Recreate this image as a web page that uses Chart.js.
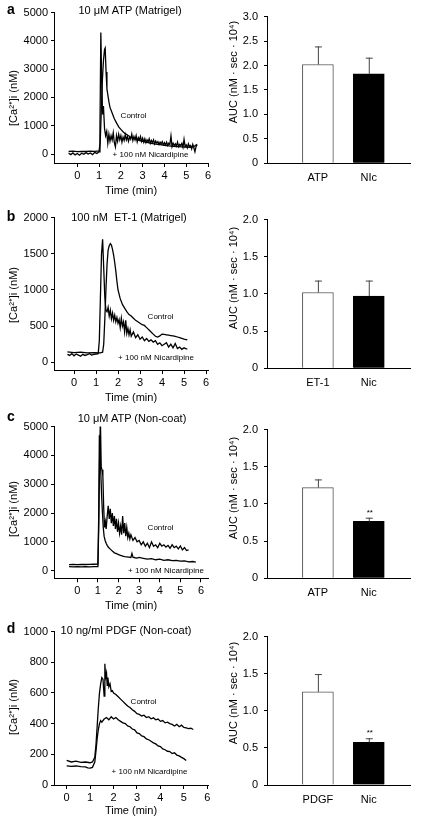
<!DOCTYPE html>
<html>
<head>
<meta charset="utf-8">
<script src="https://cdn.jsdelivr.net/npm/chart.js@4"></script>
<style>
body { margin:0; background:#fff; width:421px; height:818px; position:relative; overflow:hidden; font-family:"Liberation Sans", Arial, sans-serif; }
canvas { position:absolute; }
.lbl { position:absolute; transform:translate(-50%,-50%); line-height:1; white-space:pre; color:#000; }
.rot { transform:translate(-50%,-50%) rotate(-90deg); }
</style>
</head>
<body>
<canvas id="traceA"></canvas>
<canvas id="barA"></canvas>
<canvas id="traceB"></canvas>
<canvas id="barB"></canvas>
<canvas id="traceC"></canvas>
<canvas id="barC"></canvas>
<canvas id="traceD"></canvas>
<canvas id="barD"></canvas>
<script>
/* ticks */
const X_TICKS = [0, 1, 2, 3, 4, 5, 6];
const A_Y_TICKS = [0, 1000, 2000, 3000, 4000, 5000];
const B_Y_TICKS = [0, 500, 1000, 1500, 2000];
const C_Y_TICKS = [0, 1000, 2000, 3000, 4000, 5000];
const D_Y_TICKS = [0, 200, 400, 600, 800, 1000];
const A_BAR_TICKS = [0, 0.5, 1, 1.5, 2, 2.5, 3];
const BAR_TICKS = [0, 0.5, 1, 1.5, 2];

/* a: 10 uM ATP (Matrigel) */
const aCtrlT = [-0.4,-0.2,0,0.2,0.4,0.6,0.8,1.0,1.05,1.1,1.15,1.2,1.25,1.28,1.32,1.36,1.4,1.45,1.5,1.6,1.7,1.8,1.9,2.0,2.1,2.2,2.4,2.6,2.8,3.0,3.2,3.4,3.6,3.8,4.0,4.2,4.4,4.6,4.8,5.0,5.2,5.3,5.4,5.5];
const aCtrlV = [90,100,85,95,90,100,95,110,400,1500,2600,3300,3700,3750,2900,2300,2100,1850,1650,1450,1250,1100,960,870,790,720,620,550,490,450,410,380,350,330,310,290,275,265,255,245,240,250,290,340];
const aNicT = [-0.4,-0.3,-0.2,-0.1,0,0.1,0.2,0.3,0.4,0.5,0.6,0.7,0.8,0.9,1.0,1.04,1.08,1.12,1.16,1.2,1.25,1.3,1.35,1.4,1.45,1.5,1.55,1.6,1.65,1.7,1.75,1.8,1.85,1.9,1.95,2.0,2.05,2.1,2.15,2.2,2.25,2.3,2.35,2.4,2.45,2.5,2.55,2.6,2.65,2.7,2.75,2.8,2.85,2.9,2.95,3.0,3.05,3.1,3.15,3.2,3.25,3.3,3.35,3.4,3.45,3.5,3.55,3.6,3.65,3.7,3.75,3.8,3.85,3.9,3.95,4.0,4.05,4.1,4.15,4.2,4.25,4.3,4.35,4.4,4.45,4.5,4.55,4.6,4.65,4.7,4.75,4.8,4.85,4.9,4.95,5.0,5.05,5.1,5.15,5.2,5.25,5.3,5.35,5.4,5.45,5.5];
const aNicV = [30,-20,40,-30,20,-40,30,-10,50,0,40,-20,60,20,80,900,4300,2600,1400,1700,900,650,800,380,700,450,650,500,750,400,250,650,450,700,500,650,420,600,480,680,500,620,450,600,520,700,480,620,500,650,430,580,500,620,450,560,420,540,400,500,430,540,380,480,400,500,360,460,380,440,340,420,360,440,330,400,320,420,300,380,330,640,260,380,300,360,280,420,260,340,300,380,240,520,260,320,220,360,260,300,180,340,220,80,260,330];

/* b: 100 nM ET-1 (Matrigel) */
const bCtrlT = [-0.3,0,0.3,0.6,0.9,1.2,1.3,1.35,1.4,1.45,1.5,1.55,1.6,1.65,1.7,1.75,1.8,1.85,1.9,1.95,2.0,2.1,2.2,2.3,2.4,2.5,2.6,2.7,2.8,2.9,3.0,3.1,3.2,3.3,3.4,3.5,3.6,3.7,3.8,3.9,4.0,4.1,4.2,4.3,4.4,4.5,4.6,4.7,4.8,4.9,5.0,5.1,5.15];
const bCtrlV = [145,135,140,130,135,130,140,250,600,1000,1350,1550,1610,1640,1620,1560,1480,1380,1260,1120,1000,880,800,750,700,660,640,610,580,560,540,520,510,480,450,420,390,360,350,365,390,385,380,375,370,365,360,350,340,330,320,315,310];
const bNicT = [-0.3,-0.2,-0.1,0,0.1,0.2,0.3,0.4,0.5,0.6,0.7,0.8,0.9,1.0,1.1,1.15,1.2,1.25,1.3,1.35,1.4,1.45,1.5,1.55,1.6,1.65,1.7,1.75,1.8,1.85,1.9,1.95,2.0,2.05,2.1,2.15,2.2,2.25,2.3,2.35,2.4,2.45,2.5,2.55,2.6,2.7,2.8,2.9,3.0,3.1,3.2,3.3,3.4,3.5,3.6,3.7,3.8,3.9,4.0,4.1,4.2,4.3,4.4,4.5,4.6,4.7,4.8,4.9,5.0,5.1,5.15];
const bNicV = [110,95,120,90,115,100,85,110,95,105,120,100,110,115,120,300,900,1500,1700,1300,900,720,700,760,640,720,600,680,580,650,560,620,540,590,480,610,500,560,420,580,400,470,380,450,360,420,340,380,320,350,300,330,290,310,280,300,250,270,230,250,270,210,250,200,260,190,210,180,200,185,185];

/* c: 10 uM ATP (Non-coat) */
const cCtrlT = [-0.4,-0.2,0,0.2,0.4,0.6,0.8,1.0,1.04,1.08,1.12,1.16,1.2,1.24,1.28,1.32,1.36,1.4,1.45,1.5,1.55,1.6,1.65,1.7,1.75,1.8,1.85,1.9,1.95,2.0,2.05,2.1,2.15,2.2,2.25,2.3,2.35,2.4,2.45,2.5,2.55,2.6,2.7,2.8,2.9,3.0,3.1,3.2,3.3,3.4,3.5,3.6,3.7,3.8,3.9,4.0,4.1,4.2,4.3,4.4,4.5,4.6,4.7,4.8,4.9,5.0,5.1,5.2,5.3,5.4];
const cCtrlV = [210,215,210,220,215,220,225,230,1500,3800,5300,3600,3500,3300,2200,1500,1700,1450,1900,2250,1800,2150,1650,2000,1550,1900,1450,1800,1350,1650,1300,1550,1250,1900,1300,1650,1200,1500,1150,1300,1100,1250,1050,1150,1000,1050,900,1000,850,950,800,1000,850,900,800,950,850,900,820,880,780,900,800,850,760,860,720,800,700,720];
const cNicT = [-0.4,-0.2,0,0.2,0.4,0.6,0.8,1.0,1.04,1.07,1.1,1.14,1.18,1.22,1.26,1.3,1.35,1.4,1.45,1.5,1.6,1.7,1.8,1.9,2.0,2.1,2.2,2.3,2.4,2.5,2.6,2.65,2.7,2.8,2.9,3.0,3.2,3.4,3.6,3.8,4.0,4.2,4.4,4.6,4.8,5.0,5.2,5.4,5.6,5.75];
const cNicV = [140,135,140,130,140,135,140,145,2000,4700,4200,3400,2600,2000,1500,1200,1050,950,880,820,750,680,620,590,560,530,510,490,480,470,460,600,470,450,440,460,430,400,420,380,400,360,380,350,360,330,340,310,320,300];

/* d: 10 ng/ml PDGF (Non-coat) */
const dCtrlT = [0,0.2,0.4,0.6,0.8,1.0,1.1,1.2,1.25,1.3,1.35,1.4,1.45,1.5,1.55,1.6,1.63,1.66,1.7,1.73,1.76,1.8,1.85,1.9,1.95,2.0,2.1,2.2,2.3,2.4,2.5,2.6,2.7,2.8,2.9,3.0,3.1,3.2,3.3,3.4,3.5,3.6,3.7,3.8,3.9,4.0,4.1,4.2,4.3,4.4,4.5,4.6,4.7,4.8,4.9,5.0,5.1,5.2,5.3,5.4];
const dCtrlV = [160,150,155,148,150,145,150,180,260,380,500,600,660,700,690,580,790,700,730,650,700,640,660,610,615,600,590,575,560,545,530,515,505,490,480,465,460,450,455,440,445,432,438,425,430,415,420,405,410,400,395,385,395,380,390,375,372,368,370,362];
const dNicT = [0,0.2,0.4,0.6,0.8,0.9,1.0,1.1,1.2,1.25,1.3,1.35,1.4,1.45,1.5,1.6,1.7,1.8,1.9,2.0,2.1,2.2,2.3,2.4,2.5,2.6,2.7,2.8,2.9,3.0,3.1,3.2,3.3,3.4,3.5,3.6,3.7,3.8,3.9,4.0,4.1,4.2,4.3,4.4,4.5,4.6,4.7,4.8,4.9,5.0,5.1];
const dNicV = [125,122,124,120,118,112,110,115,150,220,300,360,400,420,410,430,440,425,445,430,440,425,415,405,400,385,380,365,360,340,335,320,315,300,295,285,275,268,255,250,235,230,220,218,205,210,195,190,180,172,160];

/* AUC bars */
const aBarLabels = ['ATP', 'NIc'];
const aBarMeans = [2.02, 1.83];
const aBarErrs = [0.37, 0.33];
const aBarSig = ['', ''];
const bBarLabels = ['ET-1', 'Nic'];
const bBarMeans = [1.02, 0.97];
const bBarErrs = [0.16, 0.21];
const bBarSig = ['', ''];
const cBarLabels = ['ATP', 'Nic'];
const cBarMeans = [1.22, 0.765];
const cBarErrs = [0.11, 0.05];
const cBarSig = ['', '**'];
const dBarLabels = ['PDGF', 'Nic'];
const dBarMeans = [1.255, 0.575];
const dBarErrs = [0.24, 0.055];
const dBarSig = ['', '**'];

const FONT = '"Liberation Sans", Arial, sans-serif';
Chart.defaults.font.family = FONT;
Chart.defaults.color = '#000';

function toPoints(ts, vs) {
    return ts.map((t, i) => ({ x: t, y: vs[i] }));
}

// time course panel (left)
function traceChart(id, box, yTicks, ctrlT, ctrlV, nicT, nicV) {
    const cv = document.getElementById(id);
    const top = Math.round(box.top - 9);
    const h = Math.round(box.axis - top + 22);
    cv.width = 214;
    cv.height = h;
    cv.style.left = '0px';
    cv.style.top = top + 'px';
    return new Chart(cv, {
        type: 'line',
        data: {
            datasets: [
                { data: toPoints(ctrlT, ctrlV), borderColor: '#000', borderWidth: 1.3, pointRadius: 0, tension: 0 },
                { data: toPoints(nicT, nicV), borderColor: '#000', borderWidth: 1.3, pointRadius: 0, tension: 0 }
            ]
        },
        options: {
            responsive: false,
            animation: false,
            layout: { padding: { left: 0, right: 6, top: box.top - top, bottom: 0 } },
            plugins: { legend: { display: false }, tooltip: { enabled: false } },
            scales: {
                x: {
                    type: 'linear',
                    min: box.xMin,
                    max: box.xMax,
                    afterBuildTicks: s => { s.ticks = X_TICKS.map(v => ({ value: v })); },
                    afterFit: s => { s.height = h - (box.axis - top); },
                    grid: { drawOnChartArea: false, tickLength: 4, color: '#000' },
                    border: { color: '#000', width: 1 },
                    ticks: { color: '#000', font: { size: 11 }, padding: 2, maxRotation: 0, callback: v => String(v) }
                },
                y: {
                    type: 'linear',
                    min: box.yMin,
                    max: box.yMax,
                    afterBuildTicks: s => { s.ticks = yTicks.map(v => ({ value: v })); },
                    afterFit: s => { s.width = 54; },
                    grid: { drawOnChartArea: false, tickLength: 3, color: '#000' },
                    border: { color: '#000', width: 1 },
                    ticks: { color: '#000', font: { size: 11 }, padding: 3, callback: v => String(v) }
                }
            }
        }
    });
}

// error bars + significance stars
const errorBars = {
    id: 'errorBars',
    afterDatasetsDraw(chart, args, opts) {
        const ctx = chart.ctx;
        const y = chart.scales.y;
        const ds = chart.data.datasets[0];
        chart.getDatasetMeta(0).data.forEach((bar, i) => {
            const topY = y.getPixelForValue(ds.data[i].y + opts.errs[i]);
            ctx.save();
            ctx.strokeStyle = '#444';
            ctx.lineWidth = 1;
            ctx.beginPath();
            ctx.moveTo(bar.x + 0.5, bar.y);
            ctx.lineTo(bar.x + 0.5, topY);
            ctx.moveTo(bar.x - 3, topY + 0.5);
            ctx.lineTo(bar.x + 4, topY + 0.5);
            ctx.stroke();
            if (opts.sig[i]) {
                ctx.fillStyle = '#000';
                ctx.font = '8px ' + FONT;
                ctx.textAlign = 'center';
                ctx.textBaseline = 'bottom';
                ctx.fillText(opts.sig[i], bar.x + 1, topY - 1);
            }
            ctx.restore();
        });
    }
};

// AUC panel (right)
function barChart(id, box, yTicks, labels, means, errs, sig) {
    const cv = document.getElementById(id);
    const top = Math.round(box.top - 9);
    const h = Math.round(box.axis - top + 24);
    cv.width = 211;
    cv.height = h;
    cv.style.left = '210px';
    cv.style.top = top + 'px';
    return new Chart(cv, {
        type: 'bar',
        data: {
            datasets: [{
                data: means.map((m, i) => ({ x: i + 1, y: m })),
                backgroundColor: ['#fff', '#000'],
                borderColor: ['#555', '#000'],
                borderWidth: 1,
                borderSkipped: 'bottom',
                barThickness: 31
            }]
        },
        plugins: [errorBars],
        options: {
            responsive: false,
            animation: false,
            layout: { padding: { left: 0, right: 11, top: box.top - top, bottom: 0 } },
            plugins: {
                legend: { display: false },
                tooltip: { enabled: false },
                errorBars: { errs: errs, sig: sig }
            },
            scales: {
                x: {
                    type: 'linear',
                    min: 0,
                    max: 2.81,
                    offset: false,
                    afterBuildTicks: s => { s.ticks = labels.map((l, i) => ({ value: i + 1 })); },
                    afterFit: s => { s.height = h - (box.axis - top); },
                    grid: { display: true, drawOnChartArea: false, drawTicks: false, offset: false },
                    border: { color: '#000', width: 1 },
                    ticks: { color: '#000', font: { size: 11 }, padding: 8, maxRotation: 0, callback: v => labels[v - 1] }
                },
                y: {
                    min: 0,
                    max: box.yMax,
                    afterBuildTicks: s => { s.ticks = yTicks.map(v => ({ value: v })); },
                    afterFit: s => { s.width = 57; },
                    grid: { drawOnChartArea: false, tickLength: 3, color: '#000' },
                    border: { color: '#000', width: 1 },
                    ticks: { color: '#000', font: { size: 11 }, padding: 6, callback: v => v === 0 ? '0' : v.toFixed(1) }
                }
            }
        }
    });
}

traceChart('traceA', { top: 12, axis: 163, yMin: -317, yMax: 5000, xMin: -1.07, xMax: 6.0 }, A_Y_TICKS, aCtrlT, aCtrlV, aNicT, aNicV);
traceChart('traceB', { top: 216.7, axis: 370, yMin: -106, yMax: 2000, xMin: -0.91, xMax: 6.09 }, B_Y_TICKS, bCtrlT, bCtrlV, bNicT, bNicV);
traceChart('traceC', { top: 426, axis: 578.3, yMin: -263, yMax: 5000, xMin: -1.13, xMax: 6.34 }, C_Y_TICKS, cCtrlT, cCtrlV, cNicT, cNicV);
traceChart('traceD', { top: 631, axis: 785, yMin: 0, yMax: 1000, xMin: -0.54, xMax: 6.03 }, D_Y_TICKS, dCtrlT, dCtrlV, dNicT, dNicV);

barChart('barA', { top: 13.3, axis: 163.3, yMax: 3 }, A_BAR_TICKS, aBarLabels, aBarMeans, aBarErrs, aBarSig);
barChart('barB', { top: 216, axis: 368.3, yMax: 2 }, BAR_TICKS, bBarLabels, bBarMeans, bBarErrs, bBarSig);
barChart('barC', { top: 426, axis: 578.3, yMax: 2 }, BAR_TICKS, cBarLabels, cBarMeans, cBarErrs, cBarSig);
barChart('barD', { top: 633.3, axis: 785, yMax: 2 }, BAR_TICKS, dBarLabels, dBarMeans, dBarErrs, dBarSig);

// text: [text, centre x, centre y, size, bold, rotated]
const TEXTS = [
    ['a', 11, 9, 14, true, false],
    ['b', 11, 216, 14, true, false],
    ['c', 11, 416, 14, true, false],
    ['d', 11, 628, 14, true, false],
    ['10 \u03bcM ATP (Matrigel)', 130, 10, 11, false, false],
    ['100 nM  ET-1 (Matrigel)', 129, 217, 11, false, false],
    ['10 \u03bcM ATP (Non-coat)', 132, 418, 11, false, false],
    ['10 ng/ml PDGF (Non-coat)', 126, 630, 11, false, false],
    ['Control', 133.5, 116, 8, false, false],
    ['+ 100 nM Nicardipine', 150.5, 155, 8, false, false],
    ['Control', 160.5, 317, 8, false, false],
    ['+ 100 nM Nicardipine', 156, 358, 8, false, false],
    ['Control', 160.5, 528, 8, false, false],
    ['+ 100 nM Nicardipine', 166, 571, 8, false, false],
    ['Control', 143.5, 702, 8, false, false],
    ['+ 100 nM Nicardipine', 149.5, 772, 8, false, false],
    ['Time (min)', 131, 190, 11, false, false],
    ['Time (min)', 131, 397, 11, false, false],
    ['Time (min)', 131, 605, 11, false, false],
    ['Time (min)', 131, 810, 11, false, false],
    ['[Ca\u00b2\u207a]i (nM)', 13, 98, 11, false, true],
    ['[Ca\u00b2\u207a]i (nM)', 13, 295, 11, false, true],
    ['[Ca\u00b2\u207a]i (nM)', 13, 509, 11, false, true],
    ['[Ca\u00b2\u207a]i (nM)', 13, 707, 11, false, true],
    ['AUC (nM \u00b7 sec \u00b7 10\u2074)', 233, 72, 11, false, true],
    ['AUC (nM \u00b7 sec \u00b7 10\u2074)', 233, 278, 11, false, true],
    ['AUC (nM \u00b7 sec \u00b7 10\u2074)', 233, 488, 11, false, true],
    ['AUC (nM \u00b7 sec \u00b7 10\u2074)', 233, 693, 11, false, true]
];
TEXTS.forEach(t => {
    const el = document.createElement('div');
    el.className = t[5] ? 'lbl rot' : 'lbl';
    el.textContent = t[0];
    el.style.left = t[1] + 'px';
    el.style.top = t[2] + 'px';
    el.style.fontSize = t[3] + 'px';
    if (t[4]) el.style.fontWeight = 'bold';
    document.body.appendChild(el);
});
</script>
</body>
</html>
